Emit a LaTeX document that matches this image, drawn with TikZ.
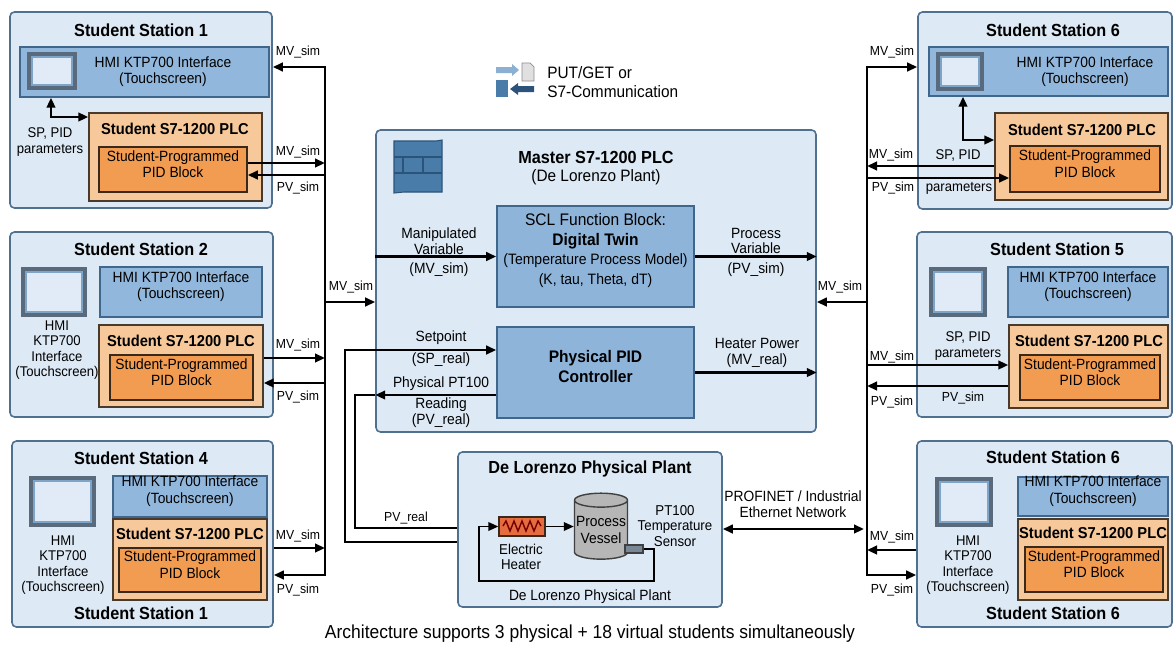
\documentclass[tikz,border=0pt]{standalone}
\usepackage{fontspec}
\setmainfont{Liberation Sans}[Scale=1.07, FakeStretch=0.93]
\usetikzlibrary{arrows.meta, positioning, shapes.geometric, fit, calc}
\definecolor{stationfill}{RGB}{221,233,245}
\definecolor{stationedge}{RGB}{80,112,144}
\definecolor{hmifill}{RGB}{146,183,220}
\definecolor{hmiedge}{RGB}{64,102,140}
\definecolor{plcfill}{RGB}{247,201,154}
\definecolor{plcedge}{RGB}{72,58,44}
\definecolor{pidfill}{RGB}{242,156,82}
\definecolor{pidedge}{RGB}{58,40,26}
\definecolor{twinfill}{RGB}{143,180,218}
\definecolor{screenedge}{RGB}{88,106,124}
\definecolor{screenband}{RGB}{126,164,200}
\definecolor{screenglass}{RGB}{224,235,247}
\definecolor{iconblue}{RGB}{74,124,170}
\definecolor{icondark}{RGB}{44,84,122}
\definecolor{iconlight}{RGB}{140,176,210}
\definecolor{heaterfill}{RGB}{228,108,62}
\definecolor{vesselfill}{RGB}{182,182,182}

\begin{document}
\begin{tikzpicture}[
    x=0.02cm, y=-0.02cm,
    station/.style={draw=stationedge, fill=stationfill, rounded corners=2.5pt, line width=0.9pt, inner sep=0pt},
    hmibox/.style={draw=hmiedge, fill=hmifill, line width=0.8pt, inner sep=0pt, font=\fontsize{7.9}{9.6}\selectfont, align=center},
    plcbox/.style={draw=plcedge, fill=plcfill, line width=0.8pt, inner sep=0pt},
    pidbox/.style={draw=pidedge, fill=pidfill, line width=0.9pt, inner sep=0pt, font=\fontsize{7.9}{9.4}\selectfont, align=center},
    corebox/.style={draw=hmiedge, fill=twinfill, line width=0.9pt, inner sep=0pt, font=\fontsize{8.9}{11.3}\selectfont, align=center},
    screen/.style={fill=screenedge, inner sep=0pt},
    glass/.style={fill=screenglass, draw=screenband, line width=1.6pt, inner sep=0pt},
    title/.style={font=\bfseries\fontsize{9.3}{11}\selectfont, inner sep=0pt},
    plctitle/.style={font=\bfseries\fontsize{8.4}{10}\selectfont, inner sep=0pt},
    txt/.style={font=\fontsize{7.9}{9}\selectfont, align=center, inner sep=0pt},
    side/.style={font=\fontsize{7.5}{8.7}\selectfont, align=center, inner sep=0pt},
    sig/.style={font=\fontsize{7}{8}\selectfont, inner sep=0pt},
    arr/.style={-{Triangle[length=2mm, width=1.7mm]}, line width=1.4pt},
    darr/.style={{Triangle[length=2mm, width=1.7mm]}-{Triangle[length=2mm, width=1.7mm]}, line width=1.4pt},
    wire/.style={line width=1.4pt}
  ]
  \useasboundingbox (0,0) rectangle (1175,650);

  % left stations
  \node[station, fit={(10,12) (272,208)}] (st1) {};
  \node[title] (st1t) at (141,30) {Student Station 1};
  \node[hmibox, fit={(20,47) (269,97)}] (hmi1) {};
  \node[screen, fit={(27,52) (77,90)}] (sc1) {};
  \node[glass, fit={(32,57) (72,85)}] (sc1g) {};
  \node[txt] (hmi1txt) at (163,72) {HMI KTP700 Interface\\(Touchscreen)};
  \node[plcbox, fit={(89,113) (262,201)}] (plc1) {};
  \node[plctitle] (plc1t) at (175,129) {Student S7-1200 PLC};
  \node[pidbox, fit={(99,147) (247,192)}] (pid1) {Student-Programmed\\PID Block};
  \node[side] (par1) at (50,142) {SP, PID\\parameters};
  \coordinate (k1) at (51,117);
  \draw[darr] (k1 |- hmi1.south) -- (k1) -- (k1 -| plc1.west);

  \node[station, fit={(10,232) (273,417)}] (st2) {};
  \node[title] (st2t) at (141,249) {Student Station 2};
  \node[screen, fit={(21,267) (87,317)}] (sc2) {};
  \node[glass, fit={(26,272) (82,312)}] (sc2g) {};
  \node[side] (sc2txt) at (57,350) {HMI\\KTP700\\Interface\\(Touchscreen)};
  \node[hmibox, fit={(100,267) (262,317)}] (hmi2) {HMI KTP700 Interface\\(Touchscreen)};
  \node[plcbox, fit={(99,325) (263,407)}] (plc2) {};
  \node[plctitle] (plc2t) at (181,341) {Student S7-1200 PLC};
  \node[pidbox, fit={(110,355) (253,400)}] (pid2) {Student-Programmed\\PID Block};

  \node[station, fit={(12,441) (273,627)}] (st4) {};
  \node[title] (st4t) at (141,458) {Student Station 4};
  \node[title] (st4b) at (141,613) {Student Station 1};
  \node[screen, fit={(29,476) (96,527)}] (sc4) {};
  \node[glass, fit={(34,481) (91,522)}] (sc4g) {};
  \node[side] (sc4txt) at (63,565) {HMI\\KTP700\\Interface\\(Touchscreen)};
  \node[hmibox, fit={(113,476) (267,517)}] (hmi4) {HMI KTP700 Interface\\(Touchscreen)};
  \node[plcbox, fit={(113,519) (267,600)}] (plc4) {};
  \node[plctitle] (plc4t) at (190,534) {Student S7-1200 PLC};
  \node[pidbox, fit={(119,548) (261,592)}] (pid4) {Student-Programmed\\PID Block};

  % master PLC
  \node[station, fit={(376,130) (816,432)}] (master) {};
  \node[title] (mastert) at (596,157) {Master S7-1200 PLC};
  \node[txt, font=\fontsize{8.8}{10}\selectfont] (masters) at (596,177) {(De Lorenzo Plant)};
  \filldraw[fill=iconblue, draw=icondark, line width=0.6pt] (394,141) -- (436,141) -- (442,140) -- (442,192) -- (404,192) -- (394,193) -- cycle;
  \draw[icondark, line width=0.6pt] (394,157) -- (442,157) (394,173) -- (442,173) (403,157) -- (403,173) (423,157) -- (423,173);
  \node[corebox, fit={(497,206) (694,307)}] (twin) {SCL Function Block:\\\textbf{Digital Twin}\\{\fontsize{8}{11.3}\selectfont(Temperature Process Model)}\\{\fontsize{8}{11.3}\selectfont(K, tau, Theta, dT)}};
  \node[corebox, font=\bfseries\fontsize{8.9}{11.3}\selectfont, fit={(497,327) (694,418)}] (pidm) {Physical PID\\Controller};
  \node[txt] (mvin) at (439,241) {Manipulated\\Variable};
  \node[txt] (mvinb) at (439,270) {(MV\_sim)};
  \node[txt] (pvout) at (756,241) {Process\\Variable};
  \node[txt] (pvoutb) at (756,270) {(PV\_sim)};
  \node[txt] (spl) at (441,338) {Setpoint};
  \node[txt] (splb) at (441,360) {(SP\_real)};
  \node[txt] (pvr) at (441,384) {Physical PT100};
  \node[txt] (pvrb) at (441,413) {Reading\\(PV\_real)};
  \node[txt] (hp) at (757,353) {Heater Power\\(MV\_real)};
  \draw[arr] (master.west |- twin.west) -- (twin.west);
  \draw[arr] (twin.east) -- (twin.east -| master.east);
  \draw[arr] (pidm.east) -- (pidm.east -| master.east);

  % legend
  \fill[iconlight] (496,67) -- (512,67) -- (512,64) -- (519,70) -- (512,76) -- (512,73) -- (496,73) -- cycle;
  \filldraw[fill=black!12, draw=black!45, line width=0.4pt] (522,63) -- (530,63) -- (534,67) -- (534,81) -- (522,81) -- cycle;
  \fill[iconblue] (496,80) rectangle (508,97);
  \fill[icondark] (534,86) -- (518,86) -- (518,83) -- (510,89) -- (518,95) -- (518,92) -- (534,92) -- cycle;
  \node[anchor=west, align=left, inner sep=0pt, font=\fontsize{8.8}{10.8}\selectfont] (legend) at (547,82) {PUT/GET or\\S7-Communication};

  % physical plant
  \node[station, fit={(458,452) (722,607)}] (plant) {};
  \node[title] (plantt) at (590,469) {De Lorenzo Physical Plant};
  \node[draw=pidedge, fill=heaterfill, line width=0.7pt, inner sep=0pt, fit={(499,517) (545,536)}] (heater) {};
  \draw[line width=0.8pt, red!45!black] (503,526) -- (506,521) -- (510,531) -- (514,521) -- (518,531) -- (522,521) -- (526,531) -- (530,521) -- (534,531) -- (538,521) -- (541,526);
  \node[cylinder, shape border rotate=90, aspect=0.28, draw=black!75, line width=0.8pt, fill=vesselfill, minimum width=1.06cm, minimum height=1.32cm, inner sep=0pt, align=center, font=\fontsize{7.9}{9.4}\selectfont] (vessel) at (601,530) {Process\\Vessel};
  \node[draw=black!75, fill=screenedge!80, line width=0.6pt, inner sep=0pt, fit={(625,545) (643,553)}] (sensor) {};
  \node[txt, font=\fontsize{7.6}{8.8}\selectfont] (heatert) at (521,557) {Electric\\Heater};
  \node[txt, font=\fontsize{7.6}{8.8}\selectfont] (sensort) at (675,526) {PT100\\Temperature\\Sensor};
  \node[txt] (plantb) at (590,597) {De Lorenzo Physical Plant};
  \coordinate (lpR) at (654,581);
  \coordinate (lpL) at (479,581);
  \draw[arr, line width=1pt] (sensor.east) -| (lpR) -- (lpL) |- (heater.west);
  \draw[arr, line width=1pt] (heater.east) -- (heater.east -| vessel.west);

  % setpoint and PT100 feedback
  \coordinate (spT) at (345,350);
  \coordinate (spB) at (345,542);
  \draw[arr] (spB -| plant.west) -- (spB) -- (spT) -- (spT -| pidm.west);
  \coordinate (pvT) at (355,395);
  \coordinate (pvB) at (355,528);
  \draw[wire] (pvB -| plant.west) -- (pvB) -- (pvT) -- (pvT -| master.west);
  \draw[arr] (pvT -| pidm.west) -- (pvT -| master.west);
  \node[sig] (pvrl) at (406,518) {PV\_real};

  % right stations
  \node[station, fit={(918,12) (1172,209)}] (st6a) {};
  \node[title] (st6at) at (1053,30) {Student Station 6};
  \node[hmibox, fit={(929,47) (1168,96)}] (hmi6a) {};
  \node[screen, fit={(936,52) (984,91)}] (sc6a) {};
  \node[glass, fit={(941,57) (979,86)}] (sc6ag) {};
  \node[txt] (hmi6atxt) at (1085,72) {HMI KTP700 Interface\\(Touchscreen)};
  \node[plcbox, fit={(995,113) (1168,200)}] (plc6a) {};
  \node[plctitle] (plc6at) at (1082,130) {Student S7-1200 PLC};
  \node[pidbox, fit={(1010,146) (1160,192)}] (pid6a) {Student-Programmed\\PID Block};
  \coordinate (k6) at (963,140);
  \draw[darr] (k6 |- hmi6a.south) -- (k6) -- (k6 -| plc6a.west);
  \node[side] (par6a) at (958,155) {SP, PID};
  \node[side] (par6b) at (959,188) {parameters};

  \node[station, fit={(917,232) (1172,417)}] (st5) {};
  \node[title] (st5t) at (1057,249) {Student Station 5};
  \node[screen, fit={(929,267) (987,317)}] (sc5) {};
  \node[glass, fit={(934,272) (982,312)}] (sc5g) {};
  \node[hmibox, fit={(1008,267) (1168,317)}] (hmi5) {HMI KTP700 Interface\\(Touchscreen)};
  \node[side] (par5) at (968,346) {SP, PID\\parameters};
  \node[plcbox, fit={(1009,325) (1168,408)}] (plc5) {};
  \node[plctitle] (plc5t) at (1089,341) {Student S7-1200 PLC};
  \node[pidbox, fit={(1020,355) (1160,400)}] (pid5) {Student-Programmed\\PID Block};
  \node[sig] (st5pv) at (963,398) {PV\_sim};

  \node[station, fit={(917,441) (1172,627)}] (st6b) {};
  \node[title] (st6bt) at (1053,457) {Student Station 6};
  \node[title] (st6bb) at (1053,613) {Student Station 6};
  \node[screen, fit={(935,477) (993,527)}] (sc6b) {};
  \node[glass, fit={(940,482) (988,522)}] (sc6bg) {};
  \node[side] (sc6btxt) at (968,565) {HMI\\KTP700\\Interface\\(Touchscreen)};
  \node[hmibox, fit={(1018,477) (1168,516)}] (hmi6b) {HMI KTP700 Interface\\(Touchscreen)};
  \node[plcbox, fit={(1018,519) (1168,600)}] (plc6b) {};
  \node[plctitle] (plc6bt) at (1093,533) {Student S7-1200 PLC};
  \node[pidbox, fit={(1025,547) (1163,592)}] (pid6b) {Student-Programmed\\PID Block};

  % left bus
  \coordinate (bLtop) at (325,67);
  \coordinate (bLbot) at (325,575);
  \coordinate (bL1a) at (325,163);
  \coordinate (bL1b) at (325,175);
  \coordinate (bLm) at (325,302);
  \coordinate (bL2a) at (325,358);
  \coordinate (bL2b) at (325,383);
  \coordinate (bL4a) at (325,548);
  \draw[arr] (bLbot) -- (bLtop) -- (bLtop -| st1.east);
  \draw[arr] (bLtop) -- (bLbot) -- (bLbot -| st4.east);
  \draw[arr] (bL1a -| pid1.east) -- (bL1a);
  \draw[arr] (bL1b) -- (bL1b -| pid1.east);
  \draw[arr] (bLm) -- (bLm -| master.west);
  \draw[arr] (bL2a -| plc2.east) -- (bL2a);
  \draw[arr] (bL2b) -- (bL2b -| plc2.east);
  \draw[arr] (bL4a -| st4.east) -- (bL4a);
  \node[sig] (l1) at (298,52) {MV\_sim};
  \node[sig] (l2) at (298,152) {MV\_sim};
  \node[sig] (l3) at (298,188) {PV\_sim};
  \node[sig] (l4) at (351,287) {MV\_sim};
  \node[sig] (l5) at (298,345) {MV\_sim};
  \node[sig] (l6) at (298,397) {PV\_sim};
  \node[sig] (l7) at (298,536) {MV\_sim};
  \node[sig] (l8) at (298,590) {PV\_sim};

  % right bus
  \coordinate (bRtop) at (867,67);
  \coordinate (bRbot) at (867,575);
  \coordinate (bR6a) at (867,166);
  \coordinate (bR6b) at (867,178);
  \coordinate (bRm) at (867,302);
  \coordinate (bR5a) at (867,365);
  \coordinate (bR5b) at (867,386);
  \coordinate (bRnet) at (864,529);
  \coordinate (bR6c) at (867,550);
  \draw[arr] (bRbot) -- (bRtop) -- (bRtop -| st6a.west);
  \draw[arr] (bRtop) -- (bRbot) -- (bRbot -| st6b.west);
  \draw[arr] (bR6a -| plc6a.west) -- (bR6a);
  \draw[arr] (bR6b) -- (bR6b -| pid6a.west);
  \draw[arr] (bRm) -- (bRm -| master.east);
  \draw[arr] (bR5a) -- (bR5a -| plc5.west);
  \draw[arr] (bR5b -| plc5.west) -- (bR5b);
  \draw[arr] (bR6c -| st6b.west) -- (bR6c);
  \draw[darr] (plant.east |- bRnet) -- (bRnet);
  \node[txt] (net) at (793,504) {PROFINET / Industrial\\Ethernet Network};
  \node[sig] (r1) at (892,52) {MV\_sim};
  \node[sig] (r2) at (891,155) {MV\_sim};
  \node[sig] (r3) at (893,188) {PV\_sim};
  \node[sig] (r4) at (840,287) {MV\_sim};
  \node[sig] (r5) at (892,357) {MV\_sim};
  \node[sig] (r6) at (892,402) {PV\_sim};
  \node[sig] (r7) at (892,537) {MV\_sim};
  \node[sig] (r8) at (892,590) {PV\_sim};

  \node[inner sep=0pt, font=\fontsize{10}{12}\selectfont] (caption) at (590,634) {Architecture supports 3 physical + 18 virtual students simultaneously};
\end{tikzpicture}
\end{document}
